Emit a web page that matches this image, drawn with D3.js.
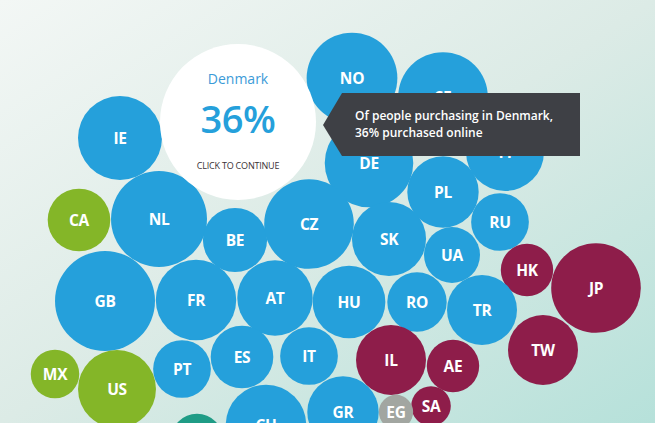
<!DOCTYPE html>
<html>
<head>
<meta charset="utf-8">
<script src="https://cdn.jsdelivr.net/npm/d3@7"></script>
<style>
  html, body { margin: 0; padding: 0; overflow: hidden; }
  svg { display: block; }
</style>
</head>
<body>
<svg id="chart" width="655" height="423"></svg>
<script>
// country codes, region group, share (%), layout position in the 655x423 design frame
const codes  = ['IE','NO','SE','DE','FI','PL','RU','CA','NL','BE','CZ','SK','UA','HK','JP','TW','TR','RO','HU','IL','AE','SA','EG','GR','GB','FR','AT','PT','ES','IT','CH','AU','MX','US'];
const groups = ['eu','eu','eu','eu','eu','eu','eu','am','eu','eu','eu','eu','eu','as','as','as','eu','eu','eu','me','me','me','af','eu','eu','eu','eu','eu','eu','eu','eu','oc','am','am'];
const shares = [36, 42, 41, 40, 31, 26, 17, 20, 47, 21, 41, 28, 16, 14, 41, 25, 25, 18, 27, 25, 14, 8, 6, 26, 51, 33, 29, 17, 20, 17, 33, 14, 12, 31];
const posX   = [120, 352, 443, 369, 505, 443, 500, 79, 159, 235, 309, 389, 452, 527, 596, 543, 482, 417, 349, 391, 453, 431, 396, 343, 105, 196, 275, 182, 242, 309, 266, 197, 55, 117];
const posY   = [138, 78, 97, 163, 152, 192, 222, 220, 219, 240, 224, 239, 255, 270, 288, 350, 310, 302, 302, 360, 366, 406, 412, 412, 301, 300, 298, 369, 357, 356, 425, 440, 374, 389];

// highlighted country
const focusName = 'Denmark';
const focusShare = 36;
const focusPos = [238, 122];
const tipLines = ['Of people purchasing in Denmark,', '36% purchased online'];

const colors = { eu: '#25a0db', am: '#84b628', as: '#8e1d4a', me: '#8e1d4a', af: '#a2a6a1', oc: '#1f9c86' };

const svg = d3.select('#chart');
const width = 655, height = 423;

const x = d3.scaleLinear().domain([0, 655]).range([0, width]);
const y = d3.scaleLinear().domain([0, 423]).range([0, height]);
const r = d3.scaleSqrt().domain([0, 100]).range([0, 70]);

// background
const defs = svg.append('defs');
const grad = defs.append('linearGradient')
  .attr('id', 'bg')
  .attr('x1', 0).attr('y1', 0).attr('x2', 1).attr('y2', 1);
grad.append('stop').attr('offset', 0).attr('stop-color', '#f3f7f5');
grad.append('stop').attr('offset', 0.5).attr('stop-color', '#dcebe6');
grad.append('stop').attr('offset', 1).attr('stop-color', '#b6e1da');
svg.append('rect')
  .attr('width', width).attr('height', height)
  .attr('fill', 'url(#bg)');

let data = codes.map((c, i) => ({
  code: c, group: groups[i], share: shares[i], px: posX[i], py: posY[i]
}));

let bubbles = svg.append('g').selectAll('g')
  .data(data).enter()
  .append('g')
  .attr('transform', d => 'translate(' + x(d.px) + ',' + y(d.py) + ')');

bubbles.append('circle')
  .attr('r', d => r(d.share))
  .attr('fill', d => colors[d.group]);

// labels, skipping bubbles whose centre sits well below the page
bubbles.filter(d => y(d.py) < height + 10)
  .append('text')
  .attr('text-anchor', 'middle')
  .attr('dy', '0.36em')
  .style('font-family', '"Open Sans", sans-serif')
  .style('font-weight', 700)
  .style('font-size', '15.5px')
  .style('letter-spacing', '-0.3px')
  .style('fill', '#fff')
  .text(d => d.code);

// focused bubble
let focus = svg.append('g')
  .attr('transform', 'translate(' + x(focusPos[0]) + ',' + y(focusPos[1]) + ')');
focus.append('circle')
  .attr('r', 78)
  .attr('fill', '#fff');
focus.append('text')
  .attr('text-anchor', 'middle')
  .attr('y', -38)
  .style('font-family', '"Open Sans", sans-serif')
  .style('font-size', '14px')
  .style('fill', '#3b9bd8')
  .text(focusName);
focus.append('text')
  .attr('text-anchor', 'middle')
  .attr('y', 11)
  .style('font-family', '"Open Sans", sans-serif')
  .style('font-weight', 600)
  .style('font-size', '38px')
  .style('letter-spacing', '-0.5px')
  .style('fill', '#25a0db')
  .text(focusShare + '%');
focus.append('text')
  .attr('text-anchor', 'middle')
  .attr('y', 47)
  .style('font-family', '"Open Sans", sans-serif')
  .style('font-size', '9px')
  .style('letter-spacing', '-0.2px')
  .style('fill', '#3a3236')
  .text('CLICK TO CONTINUE');

// tooltip
let tip = svg.append('g');
tip.append('path')
  .attr('d', 'M342,93 L580,93 L580,156 L342,156 L323,125 Z')
  .attr('fill', '#3e4045');
tip.selectAll('text')
  .data(tipLines).enter()
  .append('text')
  .attr('x', 355)
  .attr('y', (d, i) => 120 + i * 17)
  .style('font-family', '"Open Sans", sans-serif')
  .style('font-weight', 600)
  .style('font-size', '12px')
  .style('fill', '#fff')
  .text(d => d);
</script>
</body>
</html>
